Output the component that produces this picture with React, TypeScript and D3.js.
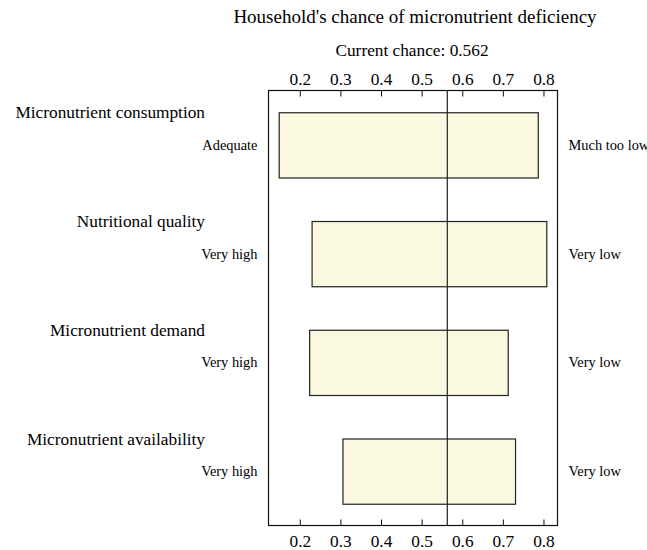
import { useEffect, useRef } from "react";
import * as d3 from "d3";

const categories = [
  "Micronutrient consumption",
  "Nutritional quality",
  "Micronutrient demand",
  "Micronutrient availability",
];
const lowValues = [0.148, 0.229, 0.223, 0.305];
const highValues = [0.786, 0.807, 0.712, 0.73];
const lowLabels = ["Adequate", "Very high", "Very high", "Very high"];
const highLabels = ["Much too low", "Very low", "Very low", "Very low"];
const currentChance = 0.562;
const tickValues = [0.2, 0.3, 0.4, 0.5, 0.6, 0.7, 0.8];

const title = "Household's chance of micronutrient deficiency";

function Tornado() {
  const ref = useRef<SVGSVGElement>(null);

  useEffect(() => {
    const svg = d3.select(ref.current);
    svg.selectAll("*").remove(); // Clear before redraw

    const width = 647;
    const height = 550;
    const left = 268.5;
    const right = 557.5;
    const top = 90.5;
    const bottom = 525.5;
    const font = "'Liberation Serif', 'Times New Roman', serif";

    // R-style 4% range extension
    const lo = d3.min(lowValues) as number;
    const hi = d3.max(highValues) as number;
    const pad = (hi - lo) * 0.04;
    const x = d3.scaleLinear().domain([lo - pad, hi + pad]).range([left, right]);

    const y = d3
      .scaleBand<string>()
      .domain(categories)
      .range([top, bottom])
      .paddingInner(0.4)
      .paddingOuter(0.2);

    svg.attr("width", width).attr("height", height).style("font-family", font);

    // Titles
    svg
      .append("text")
      .attr("x", 415)
      .attr("y", 23)
      .attr("text-anchor", "middle")
      .style("font-size", "19px")
      .text(title);

    svg
      .append("text")
      .attr("x", 412)
      .attr("y", 56)
      .attr("text-anchor", "middle")
      .style("font-size", "17.3px")
      .text(`Current chance: ${currentChance}`);

    // Bars
    const rows = categories.map((c, i) => ({
      name: c,
      low: lowValues[i],
      high: highValues[i],
      lowLabel: lowLabels[i],
      highLabel: highLabels[i],
    }));

    svg
      .append("g")
      .selectAll("rect")
      .data(rows)
      .join("rect")
      .attr("x", (d) => x(d.low))
      .attr("y", (d) => (y(d.name) as number) + 0.5)
      .attr("width", (d) => x(d.high) - x(d.low))
      .attr("height", y.bandwidth())
      .attr("fill", "#fbf8e0")
      .attr("stroke", "#222")
      .attr("stroke-width", 1.2);

    // Current chance line
    svg
      .append("line")
      .attr("x1", x(currentChance))
      .attr("x2", x(currentChance))
      .attr("y1", top)
      .attr("y2", bottom)
      .attr("stroke", "#222")
      .attr("stroke-width", 1.2);

    // Box
    svg
      .append("rect")
      .attr("x", left)
      .attr("y", top)
      .attr("width", right - left)
      .attr("height", bottom - top)
      .attr("fill", "none")
      .attr("stroke", "#111")
      .attr("stroke-width", 1.2);

    // Ticks, inward, top and bottom
    const tickG = svg.append("g");
    tickValues.forEach((t) => {
      const tx = x(t);
      tickG
        .append("line")
        .attr("x1", tx)
        .attr("x2", tx)
        .attr("y1", top)
        .attr("y2", top + 6)
        .attr("stroke", "#111");
      tickG
        .append("line")
        .attr("x1", tx)
        .attr("x2", tx)
        .attr("y1", bottom)
        .attr("y2", bottom - 6)
        .attr("stroke", "#111");
      tickG
        .append("text")
        .attr("x", tx)
        .attr("y", 85)
        .attr("text-anchor", "middle")
        .style("font-size", "17.3px")
        .text(String(t));
      tickG
        .append("text")
        .attr("x", tx)
        .attr("y", 547)
        .attr("text-anchor", "middle")
        .style("font-size", "17.3px")
        .text(String(t));
    });

    // Labels
    const lab = svg.append("g");
    rows.forEach((d) => {
      const y0 = y(d.name) as number;
      const yc = y0 + y.bandwidth() / 2;
      lab
        .append("text")
        .attr("x", 205)
        .attr("y", y0 + 6)
        .attr("text-anchor", "end")
        .style("font-size", "17.3px")
        .text(d.name);
      lab
        .append("text")
        .attr("x", left - 11)
        .attr("y", yc)
        .attr("dy", "0.35em")
        .attr("text-anchor", "end")
        .style("font-size", "14.4px")
        .text(d.lowLabel);
      lab
        .append("text")
        .attr("x", right + 11)
        .attr("y", yc)
        .attr("dy", "0.35em")
        .style("font-size", "14.4px")
        .text(d.highLabel);
    });
  }, []);

  return <svg ref={ref}></svg>;
}

export default function App() {
  return (
    <div style={{ position: "absolute", left: 0, top: 0, background: "#fff" }}>
      <Tornado />
    </div>
  );
}
